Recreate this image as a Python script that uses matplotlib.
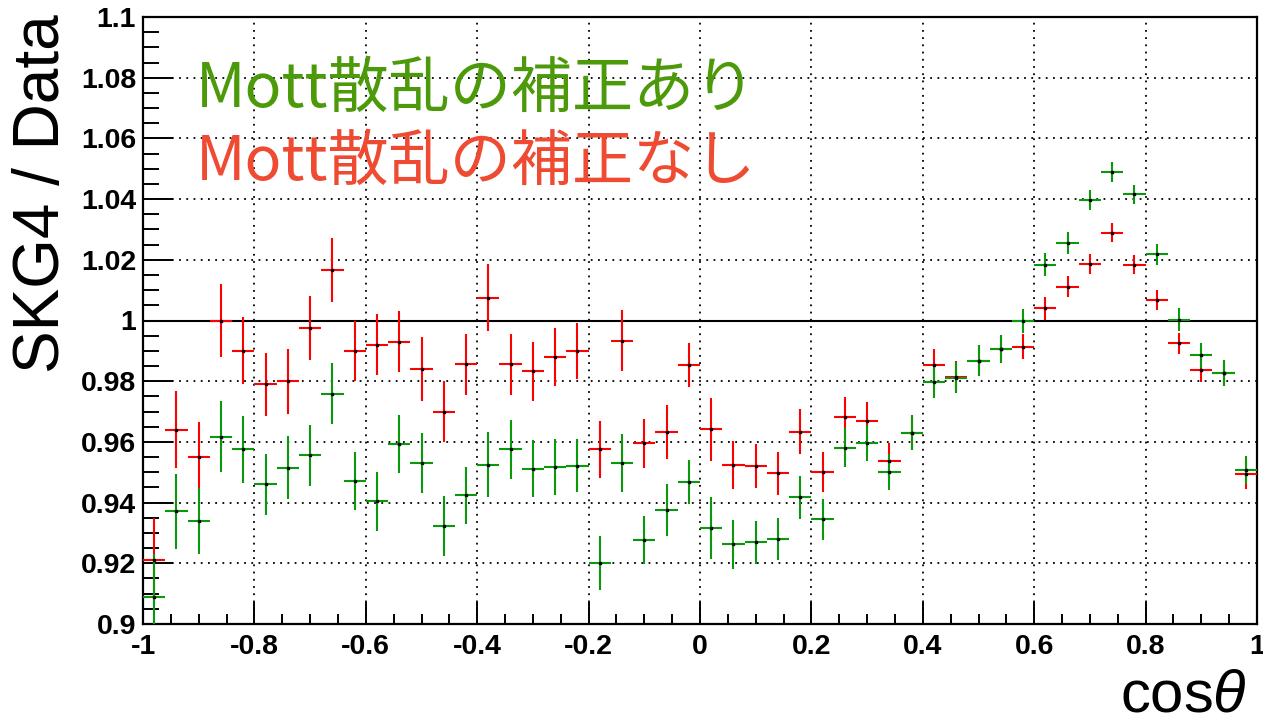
import numpy as np
import matplotlib
import matplotlib.pyplot as plt
from matplotlib.ticker import MultipleLocator, FuncFormatter

matplotlib.use("Agg")

plt.rcParams["axes.unicode_minus"] = False
plt.rcParams["mathtext.fontset"] = "custom"
plt.rcParams["mathtext.it"] = "Liberation Sans:italic"
plt.rcParams["mathtext.rm"] = "Liberation Sans"

# 50 bins in cos(theta), width 0.04
bin_edges = np.linspace(-1.0, 1.0, 51)
cos_theta = 0.5 * (bin_edges[:-1] + bin_edges[1:])
half_width = 0.02

# without Mott correction (red)
ratio_nomott = [
    0.921, 0.964, 0.955, 1.000, 0.990, 0.979, 0.980, 0.9975, 1.0166, 0.990,
    0.992, 0.993, 0.984, 0.970, 0.9856, 1.0075, 0.9856, 0.9832, 0.988, 0.990,
    0.9575, 0.9934, 0.9595, 0.9632, 0.9854, 0.9641, 0.9524, 0.952, 0.9496, 0.9634,
    0.9501, 0.9682, 0.9669, 0.9538, 0.9629, 0.9852, 0.9815, 0.9868, 0.9906, 0.9914,
    1.0041, 1.0112, 1.0187, 1.0289, 1.0184, 1.0066, 0.9925, 0.9836, 0.9826, 0.9493,
]
err_nomott = [
    0.014, 0.0127, 0.0116, 0.012, 0.011, 0.0104, 0.0107, 0.0105, 0.0105, 0.010,
    0.010, 0.010, 0.0104, 0.010, 0.010, 0.011, 0.010, 0.0098, 0.0095, 0.0092,
    0.0095, 0.010, 0.0082, 0.0088, 0.0072, 0.0105, 0.008, 0.0072, 0.007, 0.0075,
    0.0067, 0.0065, 0.0062, 0.006, 0.0057, 0.0054, 0.005, 0.005, 0.0045, 0.004,
    0.0038, 0.0036, 0.0033, 0.0031, 0.0031, 0.0033, 0.0034, 0.0037, 0.0043, 0.0047,
]

# with Mott correction (green)
ratio_mott = [
    0.909, 0.9371, 0.9339, 0.9617, 0.9576, 0.946, 0.9515, 0.9556, 0.9759, 0.9471,
    0.9404, 0.9593, 0.953, 0.9322, 0.9424, 0.9524, 0.9576, 0.9512, 0.9517, 0.9522,
    0.9201, 0.9531, 0.9277, 0.9375, 0.9469, 0.9316, 0.9262, 0.9269, 0.9279, 0.9417,
    0.9345, 0.9581, 0.9596, 0.9501, 0.963, 0.9798, 0.9812, 0.9868, 0.9906, 0.9999,
    1.0183, 1.0255, 1.0398, 1.0488, 1.0416, 1.0218, 1.0003, 0.9885, 0.9826, 0.9507,
]
err_mott = [
    0.014, 0.0123, 0.011, 0.0117, 0.011, 0.010, 0.0103, 0.010, 0.010, 0.0097,
    0.0098, 0.0097, 0.010, 0.0099, 0.0094, 0.0107, 0.0097, 0.0095, 0.0093, 0.0088,
    0.009, 0.0096, 0.008, 0.0086, 0.0072, 0.0103, 0.008, 0.0072, 0.0069, 0.0071,
    0.0067, 0.0064, 0.006, 0.0058, 0.0057, 0.0052, 0.005, 0.005, 0.0045, 0.004,
    0.0038, 0.0036, 0.0033, 0.0033, 0.0032, 0.0035, 0.0038, 0.004, 0.0043, 0.0046,
]

fig = plt.figure(figsize=(12.63, 7.25), dpi=100)
ax = fig.add_axes([143 / 1263, 1 - 624 / 725, 1114 / 1263, 607 / 725])

ax.errorbar(cos_theta, ratio_nomott, xerr=half_width, yerr=err_nomott,
            fmt="none", ecolor="#ff0000", elinewidth=1.5, capsize=0, zorder=3)
ax.errorbar(cos_theta, ratio_mott, xerr=half_width, yerr=err_mott,
            fmt="none", ecolor="#0a990a", elinewidth=1.5, capsize=0, zorder=4)
ax.plot(cos_theta, ratio_nomott, "s", color="k", markersize=1.5, zorder=5)
ax.plot(cos_theta, ratio_mott, "s", color="k", markersize=1.5, zorder=5)

ax.axhline(1.0, color="k", lw=1.5, zorder=2)

ax.set_xlim(-1, 1)
ax.set_ylim(0.9, 1.1)
ax.xaxis.set_major_locator(MultipleLocator(0.2))
ax.xaxis.set_minor_locator(MultipleLocator(0.05))
ax.yaxis.set_major_locator(MultipleLocator(0.02))
ax.yaxis.set_minor_locator(MultipleLocator(0.005))
fmt = FuncFormatter(lambda v, p: "%g" % round(v, 4))
ax.xaxis.set_major_formatter(fmt)
ax.yaxis.set_major_formatter(fmt)

ax.tick_params(which="both", direction="in", top=False, right=False, width=1.4)
ax.tick_params(axis="x", which="major", length=16, pad=7)
ax.tick_params(axis="x", which="minor", length=7)
ax.tick_params(axis="y", which="major", length=21.6, pad=5)
ax.tick_params(axis="y", which="minor", length=11.5)
for lab in ax.get_xticklabels() + ax.get_yticklabels():
    lab.set_fontfamily("Liberation Sans")
    lab.set_fontweight("bold")
    lab.set_fontsize(20.5)

for sp in ax.spines.values():
    sp.set_linewidth(1.6)

ax.set_axisbelow(True)
ax.grid(True, which="major", color="k", linestyle=(0, (1, 3)), lw=1.3)

fig.text(42 / 1263, 1 - 14 / 725, "SKG4 / Data", rotation=90, ha="center",
         va="top", fontsize=46, family="Liberation Sans")
fig.text(1247 / 1263, 1 / 725, r"cos$\theta$", ha="right",
         va="bottom", fontsize=43, family="Liberation Sans")

fig.text(196 / 1263, 1 - 107 / 725, "Mott散乱の補正あり", va="baseline",
         fontsize=44, color="#4c9a0a", family=["Noto Sans CJK JP", "DejaVu Sans"])
fig.text(196 / 1263, 1 - 180 / 725, "Mott散乱の補正なし", va="baseline",
         fontsize=44, color="#ef4a32", family=["Noto Sans CJK JP", "DejaVu Sans"])

fig.savefig("out.png", dpi=100)
